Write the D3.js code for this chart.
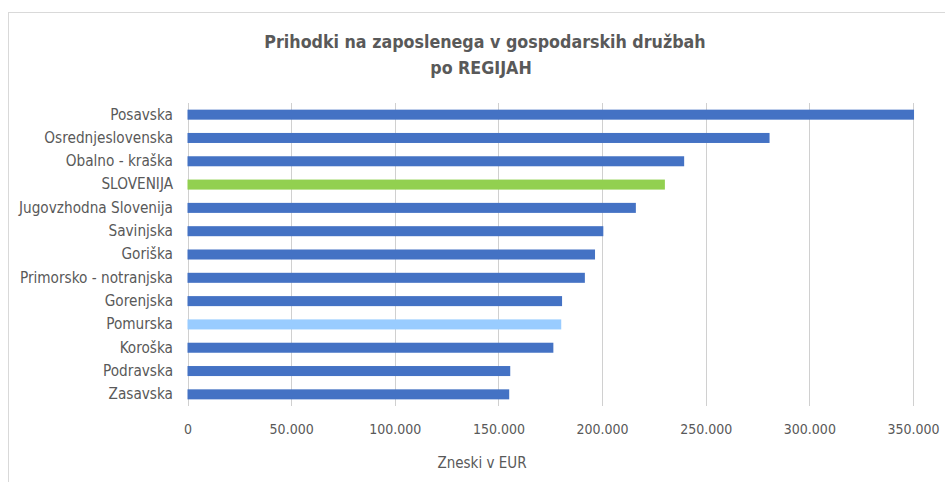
<!DOCTYPE html>
<html>
<head>
<meta charset="utf-8">
<script src="https://cdn.jsdelivr.net/npm/d3@7"></script>
<style>
  body { margin: 0; background: #fff; }
  text { font-family: "Liberation Sans Narrow", "DejaVu Sans Condensed", sans-serif; }
</style>
</head>
<body>
<div class="chart"></div>
<script>
        //Width and height
        var w = 945;
        var h = 482;

        // data, top to bottom
        var regions = ["Posavska", "Osrednjeslovenska", "Obalno - kraška", "SLOVENIJA",
                       "Jugovzhodna Slovenija", "Savinjska", "Goriška", "Primorsko - notranjska",
                       "Gorenjska", "Pomurska", "Koroška", "Podravska", "Zasavska"];
        var values = [350500, 280800, 239600, 230300, 216300, 200600, 196600, 191700,
                      180700, 180300, 176500, 155700, 155200];
        var barColors = ["#4472C4", "#4472C4", "#4472C4", "#92D050", "#4472C4", "#4472C4",
                         "#4472C4", "#4472C4", "#4472C4", "#99CCFF", "#4472C4", "#4472C4", "#4472C4"];
        var ticks = [0, 50000, 100000, 150000, 200000, 250000, 300000, 350000];

        var xScale = d3.scaleLinear()
                        .domain([0, 350000])
                        .range([187.5, 913]);

        var yScale = d3.scaleBand()
                        .domain(regions)
                        .range([103, 406])
                        .paddingInner(0.57)
                        .paddingOuter(0.285);

        var fmt = function(d) {
            return d3.format(",")(d).replace(/,/g, ".");
        };

        //Create SVG element
        var svg = d3.select("div.chart")
                    .append("svg")
                    .attr("width", w)
                    .attr("height", h);

        // chart frame
        svg.append("rect")
            .attr("x", 8.5)
            .attr("y", 12.5)
            .attr("width", w + 10)
            .attr("height", h + 10)
            .attr("fill", "#fff")
            .attr("stroke", "#d9d9d9");

        // gridlines
        svg.selectAll("line.grid")
           .data(ticks)
           .enter()
           .append("line")
           .attr("class", "grid")
           .attr("x1", function(d) { return Math.round(xScale(d)) + 0.5; })
           .attr("x2", function(d) { return Math.round(xScale(d)) + 0.5; })
           .attr("y1", 103)
           .attr("y2", 406)
           .attr("stroke", "#d0d0d0")
           .attr("stroke-width", 1);

        //Create bars
        svg.selectAll("rect.bar")
           .data(values)
           .enter()
           .append("rect")
           .attr("class", "bar")
           .attr("x", xScale(0))
           .attr("y", function(d, i) {
                   return yScale(regions[i]);
           })
           .attr("width", function(d) {
                   return xScale(d) - xScale(0);
           })
           .attr("height", yScale.bandwidth())
           .attr("fill", function(d, i) {
                return barColors[i];
           });

        // category labels
        var y_axis = d3.axisLeft(yScale).tickSize(0).tickPadding(0);
        var gy = svg.append("g")
            .attr("transform", "translate(173, 0)")
            .call(y_axis);
        gy.select(".domain").remove();
        gy.selectAll("text")
            .attr("font-family", null)
            .attr("font-size", "15.2px")
            .attr("fill", "#595959");

        // value axis
        var x_axis = d3.axisBottom(xScale)
            .tickValues(ticks)
            .tickSize(0)
            .tickPadding(0)
            .tickFormat(fmt);
        var gx = svg.append("g")
            .attr("transform", "translate(0, 424)")
            .call(x_axis);
        gx.select(".domain").remove();
        gx.selectAll("text")
            .attr("font-family", null)
            .attr("font-size", "14px")
            .attr("fill", "#595959");

        // text label for the x axis
        svg.append("text")
            .attr("x", 482)
            .attr("y", 468)
            .attr("text-anchor", "middle")
            .attr("font-size", "15px")
            .attr("fill", "#595959")
            .text("Zneski v EUR");

        // title
        svg.append("text")
            .attr("x", 485)
            .attr("y", 48)
            .attr("text-anchor", "middle")
            .attr("font-size", "17.7px")
            .attr("font-weight", "bold")
            .attr("fill", "#595959")
            .text("Prihodki na zaposlenega v gospodarskih družbah");

        svg.append("text")
            .attr("x", 481)
            .attr("y", 74)
            .attr("text-anchor", "middle")
            .attr("font-size", "17.7px")
            .attr("font-weight", "bold")
            .attr("fill", "#595959")
            .text("po REGIJAH");
</script>
</body>
</html>
